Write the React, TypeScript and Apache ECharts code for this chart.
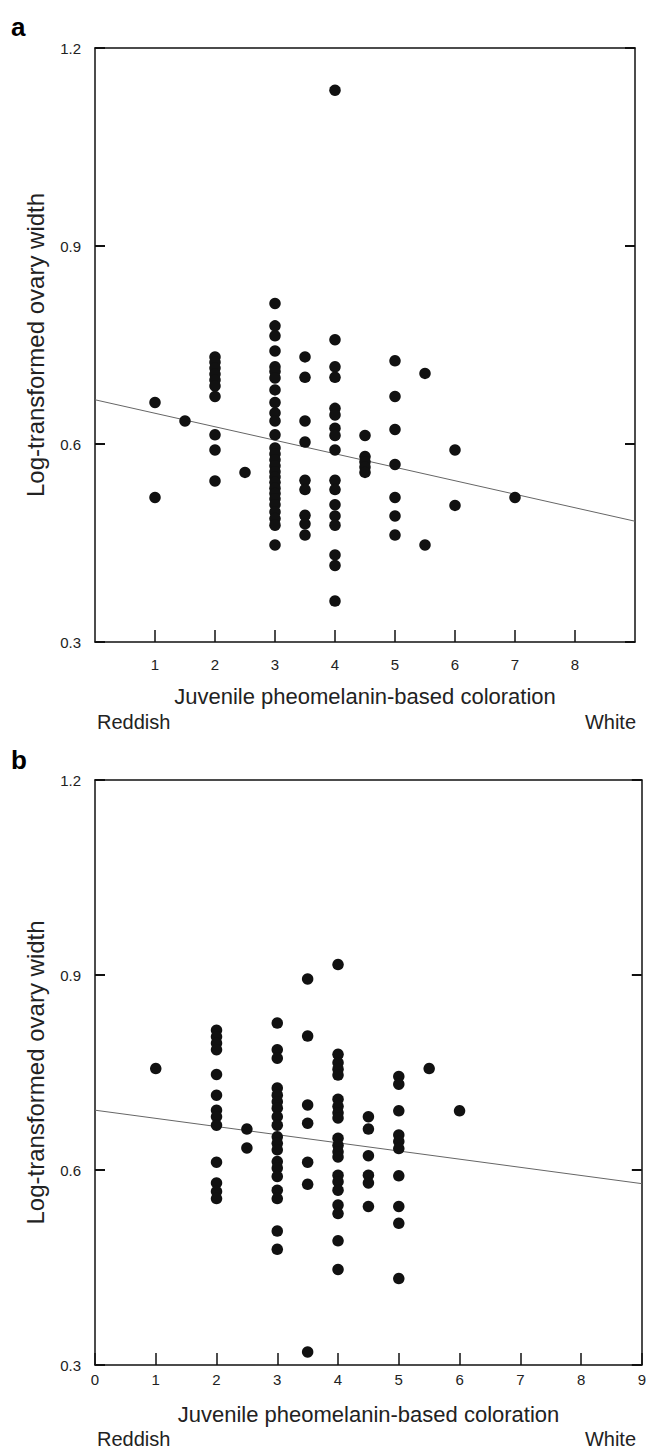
import React, { useEffect, useRef } from "react";
import * as echarts from "echarts";

// ---------- data ----------
// Panel a: ovary width by juvenile coloration score
const xLevelsA = [1, 1.5, 2, 2.5, 3, 3.5, 4, 4.5, 5, 5.5, 6, 7];
const yA_1 = [0.663, 0.519];
const yA_15 = [0.635];
const yA_2 = [0.732, 0.724, 0.715, 0.706, 0.697, 0.688, 0.672, 0.614, 0.591, 0.544];
const yA_25 = [0.557];
const yA_3 = [0.813, 0.779, 0.764, 0.741, 0.717, 0.71, 0.7, 0.682, 0.663, 0.647, 0.635, 0.614, 0.594, 0.585, 0.576, 0.567, 0.558, 0.55, 0.542, 0.533, 0.525, 0.517, 0.508, 0.497, 0.487, 0.477, 0.447];
const yA_35 = [0.732, 0.701, 0.635, 0.603, 0.545, 0.531, 0.492, 0.479, 0.462];
const yA_4 = [1.136, 0.758, 0.717, 0.701, 0.654, 0.644, 0.624, 0.613, 0.591, 0.545, 0.531, 0.508, 0.491, 0.477, 0.432, 0.416, 0.362];
const yA_45 = [0.613, 0.581, 0.573, 0.565, 0.557];
const yA_5 = [0.726, 0.672, 0.622, 0.569, 0.519, 0.491, 0.462];
const yA_55 = [0.707, 0.447];
const yA_6 = [0.591, 0.507];
const yA_7 = [0.519];
const valuesA = [yA_1, yA_15, yA_2, yA_25, yA_3, yA_35, yA_4, yA_45, yA_5, yA_55, yA_6, yA_7];
const fitA = [[0, 0.667], [9, 0.483]];

// Panel b
const xLevelsB = [1, 2, 2.5, 3, 3.5, 4, 4.5, 5, 5.5, 6];
const yB_1 = [0.756];
const yB_2 = [0.815, 0.805, 0.795, 0.785, 0.747, 0.715, 0.692, 0.682, 0.669, 0.612, 0.58, 0.567, 0.556];
const yB_25 = [0.663, 0.634];
const yB_3 = [0.826, 0.785, 0.772, 0.726, 0.715, 0.705, 0.695, 0.682, 0.669, 0.651, 0.641, 0.631, 0.613, 0.603, 0.59, 0.569, 0.556, 0.506, 0.478];
const yB_35 = [0.894, 0.806, 0.7, 0.672, 0.612, 0.578, 0.32];
const yB_4 = [0.916, 0.778, 0.765, 0.755, 0.746, 0.709, 0.698, 0.688, 0.68, 0.649, 0.638, 0.628, 0.62, 0.592, 0.582, 0.569, 0.546, 0.533, 0.491, 0.447];
const yB_45 = [0.682, 0.663, 0.622, 0.592, 0.58, 0.544];
const yB_5 = [0.744, 0.732, 0.691, 0.654, 0.644, 0.633, 0.591, 0.544, 0.518, 0.433];
const yB_55 = [0.756];
const yB_6 = [0.691];
const valuesB = [yB_1, yB_2, yB_25, yB_3, yB_35, yB_4, yB_45, yB_5, yB_55, yB_6];
const fitB = [[0, 0.692], [9, 0.579]];

// axis ticks
const xTicks = [0, 1, 2, 3, 4, 5, 6, 7, 8, 9];
const yTicks = [0.3, 0.6, 0.9, 1.2];

const xTitle = "Juvenile pheomelanin-based coloration";
const yTitle = "Log-transformed ovary width";
const leftEnd = "Reddish";
const rightEnd = "White";

const FONT = '"Liberation Sans", Arial, Helvetica, sans-serif';
const INK = "#111";

function flatten(xs: number[], ys: number[][]) {
  const out: number[][] = [];
  xs.forEach((x, i) => ys[i].forEach((y) => out.push([x, y])));
  return out;
}

function xAxes(grid: number, showEnds: boolean, margin: number) {
  return [
    {
      type: "value",
      gridIndex: grid,
      position: "bottom",
      min: xTicks[0],
      max: xTicks[xTicks.length - 1],
      interval: 1,
      axisLine: { show: true, onZero: false, lineStyle: { color: INK, width: 1.5 } },
      axisTick: { show: true, inside: true, length: 12, lineStyle: { color: INK, width: 1.5 } },
      axisLabel: {
        show: true,
        margin,
        showMinLabel: showEnds,
        showMaxLabel: showEnds,
        color: "#222",
        fontSize: 15,
        fontFamily: FONT,
      },
      splitLine: { show: false },
    },
    {
      type: "value",
      gridIndex: grid,
      position: "top",
      min: xTicks[0],
      max: xTicks[xTicks.length - 1],
      interval: 1,
      axisLine: { show: true, onZero: false, lineStyle: { color: INK, width: 1.5 } },
      axisTick: { show: false },
      axisLabel: { show: false },
      splitLine: { show: false },
    },
  ];
}

function yAxes(grid: number) {
  const base = {
    type: "value",
    gridIndex: grid,
    min: yTicks[0],
    max: yTicks[yTicks.length - 1],
    interval: 0.3,
    axisLine: { show: true, onZero: false, lineStyle: { color: INK, width: 1.5 } },
    axisTick: { show: true, inside: true, length: 10, lineStyle: { color: INK, width: 2 } },
    splitLine: { show: false },
  };
  return [
    {
      ...base,
      position: "left",
      axisLabel: {
        show: true,
        margin: 14,
        color: "#222",
        fontSize: 15,
        fontFamily: FONT,
        formatter: (v: number) => v.toFixed(1),
      },
    },
    { ...base, position: "right", axisLabel: { show: false } },
  ];
}

function txt(text: string, x: number, y: number, size: number, align: string, extra: any = {}) {
  return {
    type: "text",
    x,
    y,
    silent: true,
    ...extra,
    style: {
      text,
      fill: extra.fill || "#222",
      fontSize: size,
      fontFamily: FONT,
      fontWeight: extra.bold ? "bold" : "normal",
      textAlign: align,
      textVerticalAlign: "middle",
    },
  };
}

export default function App() {
  const ref = useRef<HTMLDivElement>(null);

  useEffect(() => {
    document.body.style.margin = "0";
    if (!ref.current) return;
    const chart = echarts.init(ref.current, undefined, { renderer: "svg" });

    const gA = { left: 95, top: 48, width: 540, height: 594 };
    const gB = { left: 95, top: 780, width: 547, height: 585 };

    const scatterStyle = { color: INK, opacity: 1 };
    const lineStyle = { color: "#666", width: 1 };

    chart.setOption({
      animation: false,
      backgroundColor: "#fff",
      grid: [
        { ...gA, containLabel: false },
        { ...gB, containLabel: false },
      ],
      xAxis: [...xAxes(0, false, 15), ...xAxes(1, true, 7)],
      yAxis: [...yAxes(0), ...yAxes(1)],
      series: [
        {
          type: "scatter",
          xAxisIndex: 0,
          yAxisIndex: 0,
          data: flatten(xLevelsA, valuesA),
          symbol: "circle",
          symbolSize: 11.5,
          itemStyle: scatterStyle,
          z: 3,
        },
        {
          type: "line",
          xAxisIndex: 0,
          yAxisIndex: 0,
          data: fitA,
          symbol: "none",
          lineStyle,
          z: 2,
        },
        {
          type: "scatter",
          xAxisIndex: 2,
          yAxisIndex: 2,
          data: flatten(xLevelsB, valuesB),
          symbol: "circle",
          symbolSize: 11.5,
          itemStyle: scatterStyle,
          z: 3,
        },
        {
          type: "line",
          xAxisIndex: 2,
          yAxisIndex: 2,
          data: fitB,
          symbol: "none",
          lineStyle,
          z: 2,
        },
      ],
      graphic: [
        txt("a", 11, 27, 26, "left", { bold: true, fill: "#000" }),
        txt("b", 11, 760, 26, "left", { bold: true, fill: "#000" }),
        txt(xTitle, gA.left + gA.width / 2, 696, 22, "center"),
        txt(leftEnd, 97, 722, 20, "left"),
        txt(rightEnd, 636, 722, 20, "right"),
        txt(xTitle, gB.left + gB.width / 2, 1414, 22, "center"),
        txt(leftEnd, 97, 1439, 20, "left"),
        txt(rightEnd, 636, 1439, 20, "right"),
        txt(yTitle, 35, gA.top + gA.height / 2, 24, "center", { rotation: Math.PI / 2 }),
        txt(yTitle, 35, gB.top + gB.height / 2, 24, "center", { rotation: Math.PI / 2 }),
      ],
    });

    return () => chart.dispose();
  }, []);

  return <div ref={ref} style={{ width: 649, height: 1450 }} />;
}
